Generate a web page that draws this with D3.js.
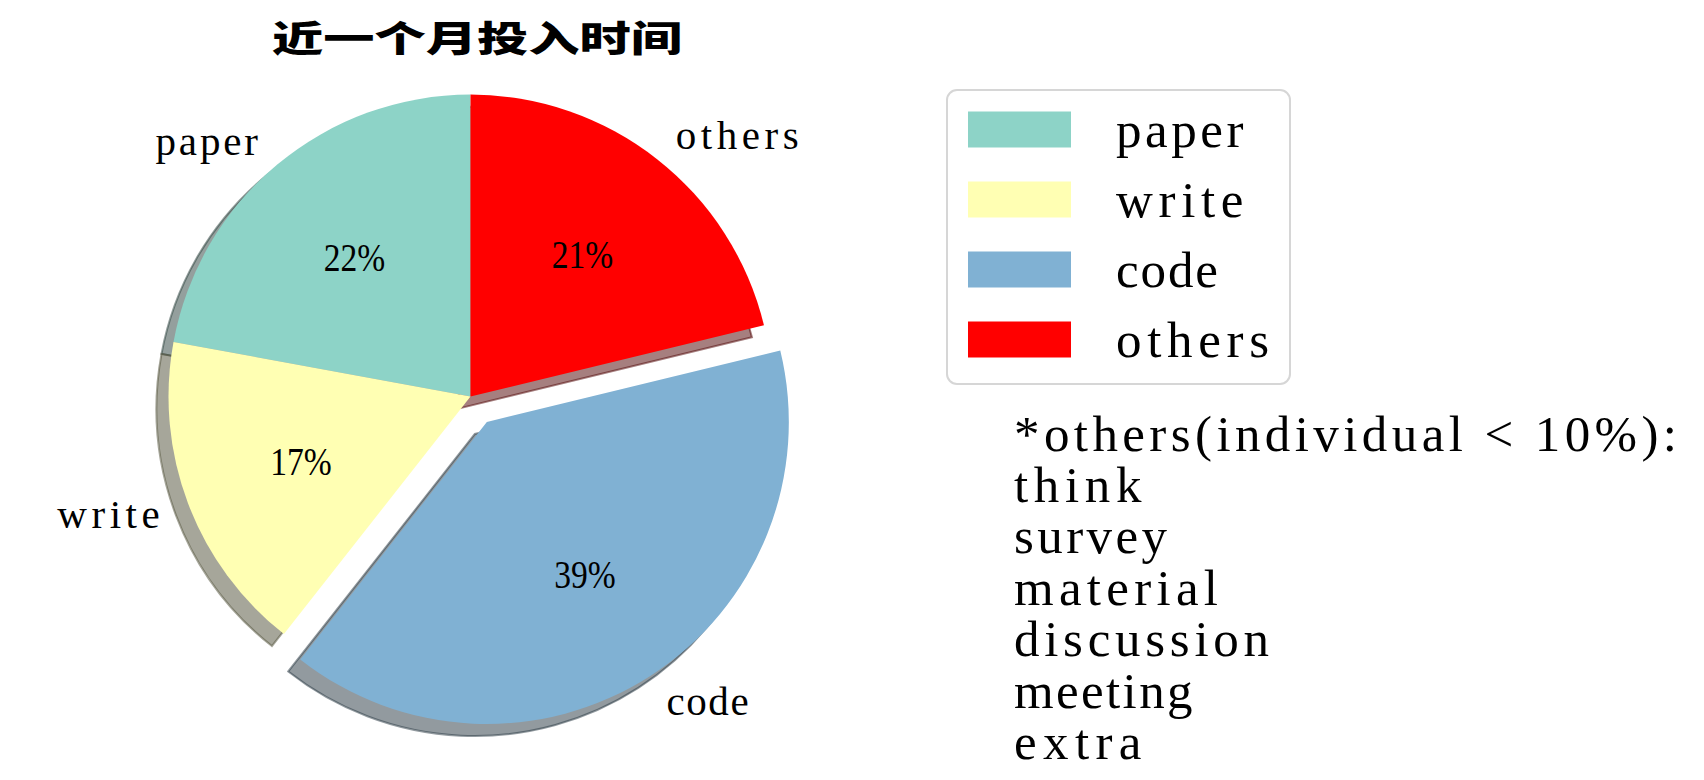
<!DOCTYPE html>
<html>
<head>
<meta charset="utf-8">
<script src="https://cdn.jsdelivr.net/npm/d3@7"></script>
<style>
  body { margin: 0; background: #fff; }
  svg { display: block; }
</style>
</head>
<body>
<div id="chart"></div>
<script>
// Chart data
const categories = ["paper", "write", "code", "others"];
const shares = [22.1, 17.3, 39.4, 21.2];   // percent of time
const colors = ["#8dd3c7", "#ffffb3", "#80b1d3", "#ff0000"];
const explode = [0, 0, 0.1, 0];
const title = "近一个月投入时间";
const noteLines = ["*others(individual < 10%):", "think", "survey", "material", "discussion", "meeting", "extra"];

const width = 1704, height = 780;
const cx = 470.5, cy = 396.6, radius = 302;
const shadowOffset = 12;
const serif = "'Liberation Serif', 'Times New Roman', serif";

const svg = d3.select("#chart")
  .append("svg")
  .attr("width", width)
  .attr("height", height);

svg.append("rect").attr("width", width).attr("height", height).attr("fill", "#fff");

// half-width glyph cells, like the original CJK font
function monoWidth(sel, size, squeeze) {
  sel.attr("textLength", function () { return this.textContent.length * size * 0.5; })
    .attr("lengthAdjust", squeeze ? "spacingAndGlyphs" : "spacing");
}

const data = categories.map((c, i) => ({ name: c, value: shares[i], color: colors[i], explode: explode[i] }));

// counter-clockwise from 12 o'clock, like matplotlib startangle=90
const pie = d3.pie().value(d => d.value).sort(null).startAngle(0).endAngle(-2 * Math.PI);
const arcs = pie(data);
const arc = d3.arc().innerRadius(0).outerRadius(radius);

arcs.forEach(a => {
  a.mid = (a.startAngle + a.endAngle) / 2;
  a.dx = a.data.explode * radius * Math.sin(a.mid);
  a.dy = -a.data.explode * radius * Math.cos(a.mid);
});

const g = svg.append("g").attr("transform", `translate(${cx},${cy})`);

const shadowColor = c => {
  const k = d3.rgb(c);
  return d3.rgb(k.r * 0.3, k.g * 0.3, k.b * 0.3).formatHex();
};

// Shadows first, below all wedges
g.selectAll("path.shadow")
  .data(arcs)
  .join("path")
  .attr("class", "shadow")
  .attr("d", arc)
  .attr("transform", d => `translate(${d.dx - shadowOffset},${d.dy + shadowOffset})`)
  .attr("fill", d => shadowColor(d.data.color))
  .attr("fill-opacity", 0.5)
  .attr("stroke", d => shadowColor(d.data.color))
  .attr("stroke-opacity", 0.5)
  .attr("stroke-width", 2);

// Wedges
g.selectAll("path.wedge")
  .data(arcs)
  .join("path")
  .attr("class", "wedge")
  .attr("d", arc)
  .attr("transform", d => `translate(${d.dx},${d.dy})`)
  .attr("fill", d => d.data.color);

// Outer labels at 1.1 r
g.selectAll("text.label")
  .data(arcs)
  .join("text")
  .attr("class", "label")
  .attr("x", d => d.dx + 1.1 * radius * Math.sin(d.mid))
  .attr("y", d => d.dy - 1.1 * radius * Math.cos(d.mid))
  .attr("text-anchor", d => Math.sin(d.mid) + d.dx > 0 ? "start" : "end")
  .attr("dominant-baseline", "central")
  .style("font-family", serif)
  .style("font-size", "41px")
  .text(d => d.data.name)
  .call(monoWidth, 41, false);

// Percent labels at 0.6 r
g.selectAll("text.pct")
  .data(arcs)
  .join("text")
  .attr("class", "pct")
  .attr("x", d => d.dx + 0.6 * radius * Math.sin(d.mid))
  .attr("y", d => d.dy - 0.6 * radius * Math.cos(d.mid))
  .attr("text-anchor", "middle")
  .attr("dominant-baseline", "central")
  .style("font-family", serif)
  .style("font-size", "41px")
  .text(d => `${Math.round(d.data.value)}%`)
  .call(monoWidth, 41, true);

// Title
svg.append("text")
  .attr("x", 477)
  .attr("y", 36)
  .attr("text-anchor", "middle")
  .attr("dominant-baseline", "central")
  .attr("textLength", 410)
  .attr("lengthAdjust", "spacingAndGlyphs")
  .style("font-family", "'Noto Sans CJK SC', sans-serif")
  .style("font-weight", 900)
  .style("font-size", "36px")
  .text(title);

// Legend
const legend = svg.append("g").attr("transform", "translate(947,90)");
legend.append("rect")
  .attr("width", 343)
  .attr("height", 294)
  .attr("rx", 10)
  .attr("fill", "#fff")
  .attr("stroke", "#d6d6d6")
  .attr("stroke-width", 2);

const item = legend.selectAll("g.item")
  .data(data)
  .join("g")
  .attr("class", "item")
  .attr("transform", (d, i) => `translate(0,${39.5 + i * 70})`);

item.append("rect")
  .attr("x", 21)
  .attr("y", -18)
  .attr("width", 103)
  .attr("height", 36)
  .attr("fill", d => d.color);

item.append("text")
  .attr("x", 169)
  .attr("dominant-baseline", "central")
  .style("font-family", serif)
  .style("font-size", "51px")
  .text(d => d.name)
  .call(monoWidth, 51, false);

// Note about "others"
svg.append("g")
  .selectAll("text")
  .data(noteLines)
  .join("text")
  .attr("x", 1014)
  .attr("y", (d, i) => 433.6 + i * 51.4)
  .attr("dominant-baseline", "central")
  .style("font-family", serif)
  .style("font-size", "51px")
  .text(d => d)
  .call(monoWidth, 51, false);
</script>
</body>
</html>
